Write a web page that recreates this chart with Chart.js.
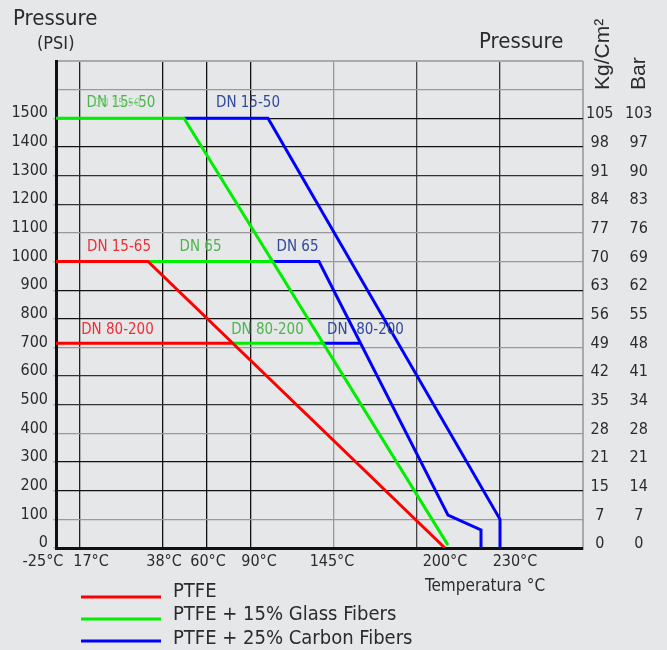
<!DOCTYPE html>
<html>
<head>
<meta charset="utf-8">
<title>Pressure / Temperature</title>
<script src="https://cdn.jsdelivr.net/npm/chart.js@4.4.1/dist/chart.umd.min.js"></script>
<style>
  html, body { margin: 0; padding: 0; background: #e6e7e9; }
  canvas { display: block; }
</style>
</head>
<body>
<canvas id="chart" width="667" height="650"></canvas>
<script>
// the temperature axis is not linear in °C, so x is a position along the axis (0..527)
const axisEnd = 527;
const gridPos = [24, 107, 151, 195, 278, 361, 444, 527];
const tempLabels = ['-25°C', '17°C', '38°C', '60°C', '90°C', '145°C', '200°C', '230°C'];
const tempLabelPos = [-13, 35, 108, 152, 203, 276, 389, 459];

const psiTicks = [0, 100, 200, 300, 400, 500, 600, 700, 800, 900, 1000, 1100, 1200, 1300, 1400, 1500];
const psiGrid = psiTicks.concat([1600, 1700]);
const kgLabels = ['0', '7', '15', '21', '28', '35', '42', '49', '56', '63', '70', '77', '84', '91', '98', '105'];
const barLabels = ['0', '7', '14', '21', '28', '34', '41', '48', '55', '62', '69', '76', '83', '90', '97', '103'];

// null breaks the line between the DN ranges
const ptfePos = [0, 92, 389, null, 0, 177];
const ptfePsi = [1000, 1000, 0, null, 715, 715];
const glassPos = [0, 128, 392, null, 92, 217, null, 177, 267];
const glassPsi = [1500, 1500, 10, null, 1000, 1000, null, 715, 715];
const carbonPos = [128, 212, 444, 444, null, 217, 263, 392, 425, 425, null, 267, 305];
const carbonPsi = [1500, 1500, 100, 0, null, 1000, 1000, 115, 63, 0, null, 715, 715];

const seriesNames = ['PTFE', 'PTFE + 15% Glass Fibers', 'PTFE + 25% Carbon Fibers'];

// DN notes written on the chart
const dnText = ['DN 15--50', 'DN 15-50', 'DN 15-50', 'DN 15-65', 'DN 65', 'DN 65', 'DN 80-200', 'DN 80-200', 'DN  80-200'];
const dnPos = [65, 61, 192, 63, 144.5, 241.5, 61.5, 211.5, 309.5];
const dnPsi = [1553, 1553, 1553, 1050, 1050, 1050, 761, 761, 761];
const dnColor = ['#4fb34f', '#86d486', '#31499b', '#ec3037', '#4fb34f', '#31499b', '#ec3037', '#4fb34f', '#31499b'];
const dnSize = [15, 11, 15, 15, 15, 15, 15, 15, 15];

const lineColors = ['#ff0000', '#00ee00', '#0000ff'];
const hGridColors = ['#111', '#999', '#111', '#111', '#999', '#333', '#333', '#999', '#111', '#111',
                     '#999', '#999', '#333', '#333', '#111', '#111', '#999', '#aaa'];
const vGridColors = ['#222', '#111', '#111', '#111', '#999', '#444', '#333', '#aaa'];

const FONT = '"DejaVu Sans Condensed", "DejaVu Sans", sans-serif';
const WIDE = '"Liberation Sans", sans-serif';
const TEXT = '#2b2b2b';

function points(xs, ys) {
    return xs.map((x, i) => ({ x: x, y: ys[i] }));
}

function series(label, xs, ys, color) {
    return {
        label: label,
        data: points(xs, ys),
        borderColor: color,
        borderWidth: 3,
        borderJoinStyle: 'miter',
        pointRadius: 0,
        tension: 0,
        spanGaps: false
    };
}

const textPlugin = {
    id: 'texts',
    afterDraw(chart) {
        const ctx = chart.ctx;
        const xs = chart.scales.x;
        const ys = chart.scales.y;
        ctx.save();

        // DN labels
        ctx.textAlign = 'center';
        ctx.textBaseline = 'middle';
        dnText.forEach((t, i) => {
            ctx.font = dnSize[i] + 'px ' + FONT;
            ctx.fillStyle = dnColor[i];
            ctx.fillText(t, xs.getPixelForValue(dnPos[i]), ys.getPixelForValue(dnPsi[i]));
        });

        // axis titles
        ctx.fillStyle = TEXT;
        ctx.textAlign = 'left';
        ctx.textBaseline = 'alphabetic';
        ctx.font = '22px ' + FONT;
        ctx.fillText('Pressure', 13, 25);
        ctx.font = '18px ' + FONT;
        ctx.fillText('(PSI)', 37, 49);
        ctx.font = '22px ' + FONT;
        ctx.fillText('Pressure', 479, 48);
        ctx.font = '17px ' + FONT;
        ctx.fillText('Temperatura °C', 425, 591);

        ctx.font = '21px ' + WIDE;
        ctx.save();
        ctx.translate(609, 90);
        ctx.rotate(-Math.PI / 2);
        ctx.fillText('Kg/Cm²', 0, 0);
        ctx.restore();
        ctx.save();
        ctx.translate(645, 90);
        ctx.rotate(-Math.PI / 2);
        ctx.fillText('Bar', 0, 0);
        ctx.restore();

        // legend
        const legendY = [597, 619, 641];
        const legendText = [597, 620, 644];
        ctx.font = '20px ' + FONT;
        seriesNames.forEach((name, i) => {
            ctx.strokeStyle = lineColors[i];
            ctx.lineWidth = 3;
            ctx.beginPath();
            ctx.moveTo(81, legendY[i]);
            ctx.lineTo(161, legendY[i]);
            ctx.stroke();
            ctx.fillStyle = TEXT;
            ctx.fillText(name, 173, legendText[i]);
        });
        ctx.restore();
    }
};

const tickFont = { family: FONT, size: 16 };

new Chart(document.getElementById('chart'), {
    type: 'line',
    data: {
        datasets: [
            series(seriesNames[0], ptfePos, ptfePsi, lineColors[0]),
            series(seriesNames[1], glassPos, glassPsi, lineColors[1]),
            series(seriesNames[2], carbonPos, carbonPsi, lineColors[2])
        ]
    },
    options: {
        responsive: false,
        animation: false,
        events: [],
        layout: { padding: { top: 61, bottom: 72, left: 0, right: 0 } },
        plugins: {
            legend: { display: false },
            tooltip: { enabled: false }
        },
        scales: {
            x: {
                type: 'linear',
                position: 'bottom',
                min: 0,
                max: axisEnd,
                afterBuildTicks: s => { s.ticks = gridPos.map(v => ({ value: v })); },
                ticks: { display: false },
                grid: {
                    color: c => vGridColors[c.index],
                    lineWidth: c => c.index === gridPos.length - 1 ? 2 : 1.3,
                    drawTicks: false
                },
                border: { display: true, color: '#111', width: 3 },
                afterFit: s => { s.height = 0; }
            },
            xt: {
                type: 'linear',
                position: 'bottom',
                min: 0,
                max: axisEnd,
                afterBuildTicks: s => { s.ticks = tempLabelPos.map(v => ({ value: v })); },
                ticks: {
                    autoSkip: false,
                    maxRotation: 0,
                    minRotation: 0,
                    padding: 4,
                    color: TEXT,
                    font: tickFont,
                    callback: (v, i) => tempLabels[i]
                },
                grid: { display: false, drawTicks: false },
                border: { display: false },
                afterFit: s => { s.height = 30; }
            },
            y: {
                type: 'linear',
                position: 'left',
                min: 0,
                max: 1700,
                afterBuildTicks: s => { s.ticks = psiGrid.map(v => ({ value: v })); },
                ticks: {
                    autoSkip: false,
                    padding: 5,
                    labelOffset: -5,
                    color: TEXT,
                    font: tickFont,
                    callback: v => v <= 1500 ? String(v) : ''
                },
                grid: {
                    color: c => hGridColors[c.index],
                    lineWidth: c => c.index === psiGrid.length - 1 ? 2 : 1.3,
                    drawTicks: true,
                    tickLength: 3,
                    tickWidth: 1.5,
                    tickColor: c => c.index > 15 ? 'rgba(0,0,0,0)' : '#b5b5b5'
                },
                border: { color: '#111', width: 3 },
                afterFit: s => { s.width = 56; }
            },
            y2: {
                type: 'linear',
                position: 'right',
                min: 0,
                max: 1700,
                afterBuildTicks: s => { s.ticks = psiTicks.map(v => ({ value: v })); },
                ticks: {
                    autoSkip: false,
                    crossAlign: 'center',
                    padding: 3,
                    labelOffset: -4,
                    color: TEXT,
                    font: tickFont,
                    callback: (v, i) => kgLabels[i]
                },
                grid: { display: false, drawTicks: false },
                border: { display: false },
                afterFit: s => { s.width = 36; }
            },
            y3: {
                type: 'linear',
                position: 'right',
                min: 0,
                max: 1700,
                afterBuildTicks: s => { s.ticks = psiTicks.map(v => ({ value: v })); },
                ticks: {
                    autoSkip: false,
                    crossAlign: 'center',
                    padding: 6,
                    labelOffset: -4,
                    color: TEXT,
                    font: tickFont,
                    callback: (v, i) => barLabels[i]
                },
                grid: { display: false, drawTicks: false },
                border: { display: false },
                afterFit: s => { s.width = 48; }
            }
        }
    },
    plugins: [textPlugin]
});
</script>
</body>
</html>
